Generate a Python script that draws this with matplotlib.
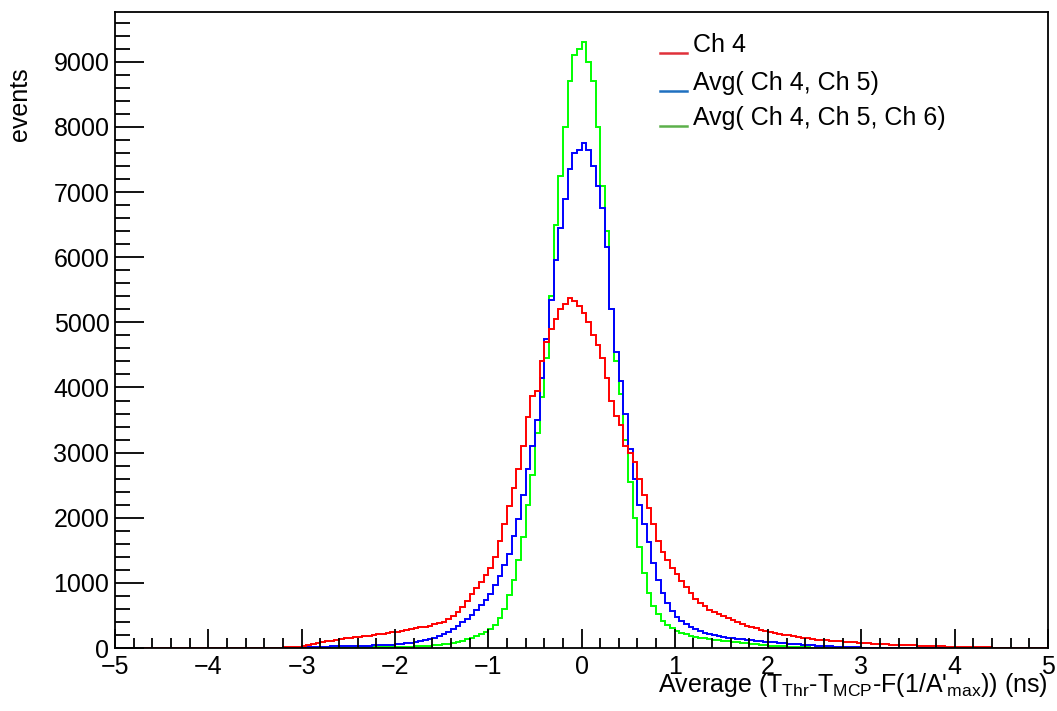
import matplotlib
matplotlib.use("Agg")
import matplotlib.pyplot as plt
import numpy as np
from matplotlib.lines import Line2D
from matplotlib.ticker import MultipleLocator

# histogram binning (ns)
x_min, x_max = -5.0, 5.0
bin_width = 0.05
data_start = -3.5  # first bin holding the values below

# bin heights, bins of 0.05 ns starting at -3.5
red_ch4 = [
    0, 0, 0, 0, 2, 5, 8, 10, 15, 20,
    30, 45, 60, 75, 90, 100, 115, 125, 140, 150,
    160, 170, 175, 185, 190, 200, 210, 215, 225, 240,
    250, 260, 270, 285, 300, 315, 330, 345, 365, 385,
    400, 440, 490, 560, 630, 720, 830, 920, 1020, 1120,
    1230, 1400, 1650, 1900, 2180, 2450, 2750, 3100, 3550, 3870,
    3950, 4400, 4700, 4900, 5050, 5200, 5280, 5380, 5330, 5250,
    5150, 5000, 4800, 4650, 4450, 4150, 3800, 3560, 3420, 3100,
    3000, 2850, 2600, 2350, 2150, 1900, 1650, 1480, 1350, 1230,
    1130, 1030, 930, 840, 750, 690, 640, 590, 550, 520,
    490, 460, 430, 400, 370, 345, 320, 300, 280, 260,
    245, 230, 215, 205, 195, 180, 170, 160, 150, 140,
    130, 125, 120, 110, 105, 100, 95, 90, 85, 80,
    75, 72, 68, 65, 60, 55, 52, 50, 48, 45,
    42, 40, 38, 35, 32, 30, 28, 25, 22, 20,
    18, 16, 15, 13, 12, 10, 9, 8, 6, 5,
    4, 3, 2, 1,
]
blue_avg45 = [
    0, 0, 0, 0, 0, 0, 0, 0, 2, 5,
    10, 12, 15, 18, 20, 22, 25, 28, 30, 32,
    33, 35, 35, 37, 38, 40, 40, 42, 45, 48,
    55, 62, 70, 80, 90, 105, 120, 140, 160, 185,
    215, 250, 290, 340, 400, 450, 510, 580, 660, 740,
    830, 960, 1100, 1280, 1450, 1720, 1980, 2350, 2750, 3100,
    3500, 4150, 4750, 5350, 5950, 6450, 6900, 7350, 7600, 7650,
    7750, 7650, 7400, 7100, 6750, 6150, 5200, 4550, 4100, 3600,
    3050, 2600, 2200, 1900, 1620, 1300, 1050, 850, 690, 570,
    480, 420, 370, 330, 290, 260, 235, 215, 195, 180,
    165, 155, 148, 140, 132, 125, 118, 112, 105, 98,
    92, 85, 78, 72, 66, 60, 55, 50, 45, 40,
    36, 32, 28, 25, 22, 18, 15, 12, 10, 8,
    6, 5, 4, 3, 2, 2, 1, 1,
]
green_avg456 = [
    0, 0, 0, 0, 0, 0, 0, 0, 0, 0,
    0, 0, 0, 0, 0, 2, 3, 4, 5, 5,
    6, 7, 8, 9, 10, 10, 11, 12, 13, 14,
    15, 17, 19, 22, 25, 28, 32, 37, 43, 50,
    58, 68, 80, 95, 112, 132, 155, 180, 210, 240,
    290, 360, 460, 600, 820, 1050, 1350, 1700, 2200, 2650,
    3300, 3850, 4450, 5400, 6500, 7250, 8000, 8700, 9100, 9200,
    9300, 9000, 8700, 8000, 7100, 6400, 5200, 4400, 3900, 3200,
    2550, 2000, 1550, 1150, 850, 650, 520, 420, 360, 300,
    260, 235, 210, 190, 175, 160, 148, 137, 127, 118,
    108, 100, 92, 85, 78, 70, 63, 56, 50, 44,
    38, 33, 28, 24, 20, 16, 13, 10, 8, 6,
    4, 3, 2, 1,
]

legend_labels = ["Ch 4", "Avg( Ch 4, Ch 5)", "Avg( Ch 4, Ch 5, Ch 6)"]
legend_colors = ["#e0313a", "#1f70c0", "#5cb04a"]

plt.rcParams["font.family"] = ["Liberation Sans", "DejaVu Sans"]
plt.rcParams["mathtext.fontset"] = "custom"
plt.rcParams["mathtext.rm"] = "Liberation Sans"
plt.rcParams["mathtext.it"] = "Liberation Sans:italic"

n_bins = int(round((x_max - x_min) / bin_width))
edges = np.linspace(x_min, x_max, n_bins + 1)
offset = int(round((data_start - x_min) / bin_width))


def full_hist(values):
    counts = np.zeros(n_bins)
    counts[offset:offset + len(values)] = values
    return counts


fig = plt.figure(figsize=(10.57, 7.11), dpi=100)
ax = fig.add_axes([0.1088, 0.0886, 0.8827, 0.8945])

ax.stairs(full_hist(green_avg456), edges, color="#00ff00", linewidth=1.4)
ax.stairs(full_hist(blue_avg45), edges, color="#0000ff", linewidth=1.4)
ax.stairs(full_hist(red_ch4), edges, color="#ff0000", linewidth=1.4)

ymax = 1.05 * max(max(red_ch4), max(blue_avg45), max(green_avg456))
ax.set_xlim(x_min, x_max)
ax.set_ylim(0, ymax)

ax.set_xticks(np.arange(-5, 6, 1))
ax.set_yticks(np.arange(0, 10000, 1000))
ax.xaxis.set_minor_locator(MultipleLocator(0.2))
ax.yaxis.set_minor_locator(MultipleLocator(200))
ax.tick_params(axis="both", which="both", direction="in", width=1.3,
               labelsize=18, top=False, right=False)
ax.tick_params(axis="y", which="major", length=21, pad=4)
ax.tick_params(axis="y", which="minor", length=11)
ax.tick_params(axis="x", which="major", length=14, pad=5)
ax.tick_params(axis="x", which="minor", length=7.5)
for spine in ax.spines.values():
    spine.set_linewidth(1.3)

fig.text(20 / 1057, 1 - 67 / 711, "events", rotation=90, ha="center", va="top",
         fontsize=18)
fig.text(1048 / 1057, 1 - 692 / 711,
         r"Average (T$_{\mathrm{Thr}}$-T$_{\mathrm{MCP}}$-F(1/A'$_{\mathrm{max}}$)) (ns)",
         ha="right", va="baseline", fontsize=18)

# pasted-on legend: short coloured line at the baseline, text to the right
rows_y = [45, 83, 118]
for label, color, yc in zip(legend_labels, legend_colors, rows_y):
    ly = 1 - (yc + 8) / 711
    fig.add_artist(Line2D([660 / 1057, 687 / 1057], [ly, ly], color=color,
                          linewidth=1.8, transform=fig.transFigure))
    fig.text(693 / 1057, 1 - yc / 711, label, ha="left", va="center",
             fontsize=18)

fig.savefig("out.png", dpi=100)
